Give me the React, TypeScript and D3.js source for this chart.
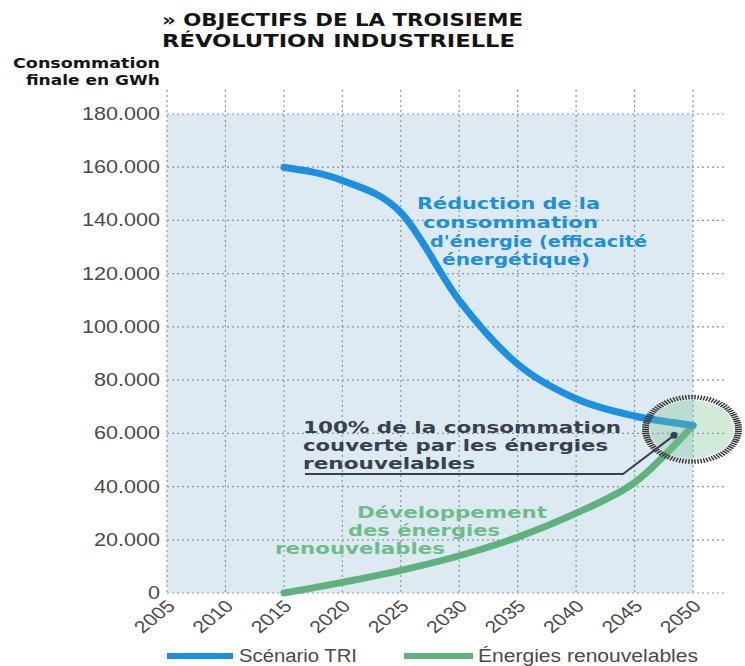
import React, { useEffect, useRef } from "react";
import * as d3 from "d3";

// Data
const years = [2015, 2020, 2025, 2030, 2035, 2040, 2045, 2050];
const scenarioTRI = [160000, 155000, 143000, 110000, 86000, 73000, 66500, 63000];
const renewables = [0, 4000, 8500, 14000, 21000, 30000, 41500, 63000];
const xTicks = [2005, 2010, 2015, 2020, 2025, 2030, 2035, 2040, 2045, 2050];
const yTicks = [0, 20000, 40000, 60000, 80000, 100000, 120000, 140000, 160000, 180000];

const BLUE = "#1b8fe0";
const GREEN = "#5fb27d";
const GREEN_TEXT = "#6cbd8b";
const DARK = "#37424d";
const TICK_TEXT = "#4a4a4a";

const fmt = (v: number) => (v === 0 ? "0" : d3.format(",")(v).replace(/,/g, "."));

const App: React.FC = () => {
  const svgRef = useRef<SVGSVGElement>(null);

  useEffect(() => {
    if (!svgRef.current) return;
    const svg = d3.select(svgRef.current);
    svg.selectAll("*").remove();

    const x = d3.scaleLinear().domain([2005, 2050]).range([167, 693]);
    const y = d3.scaleLinear().domain([0, 180000]).range([593, 114]);

    // plot background
    svg.append("rect")
      .attr("x", x(2005))
      .attr("y", y(180000))
      .attr("width", x(2050) - x(2005))
      .attr("height", y(0) - y(180000))
      .attr("fill", "#deeaf1");

    // grid
    const grid = svg.append("g")
      .attr("stroke", "#8b949b")
      .attr("stroke-width", 1.2)
      .attr("stroke-dasharray", "2,3");
    xTicks.forEach((t) => {
      grid.append("line")
        .attr("x1", x(t)).attr("x2", x(t))
        .attr("y1", 90).attr("y2", y(0));
    });
    yTicks.forEach((t) => {
      grid.append("line")
        .attr("x1", x(2005)).attr("x2", 725)
        .attr("y1", y(t)).attr("y2", y(t));
    });

    // y tick labels (stretched, like the print source)
    yTicks.forEach((t) => {
      svg.append("text")
        .attr("transform", `translate(160,${y(t) + 6}) scale(1.2,1)`)
        .attr("text-anchor", "end")
        .attr("font-family", "Liberation Sans, Arial, sans-serif")
        .attr("font-size", 18)
        .attr("fill", TICK_TEXT)
        .text(fmt(t));
    });

    // x tick labels, rotated
    xTicks.forEach((t) => {
      svg.append("text")
        .attr("transform", `translate(${x(t) + 4},${y(0) + 10}) scale(1.25,1) rotate(-45)`)
        .attr("text-anchor", "end")
        .attr("dy", "0.35em")
        .attr("font-family", "Liberation Sans, Arial, sans-serif")
        .attr("font-size", 17)
        .attr("fill", TICK_TEXT)
        .text(t);
    });

    // series
    const blueLine = d3.line<number>()
      .x((_, i) => x(years[i]))
      .y((d) => y(d))
      .curve(d3.curveMonotoneX);
    const greenLine = d3.line<number>()
      .x((_, i) => x(years[i]))
      .y((d) => y(d))
      .curve(d3.curveCatmullRom.alpha(0.5));

    svg.append("path")
      .attr("d", greenLine(renewables) || "")
      .attr("fill", "none")
      .attr("stroke", GREEN)
      .attr("stroke-width", 7)
      .attr("stroke-linecap", "round");

    svg.append("path")
      .attr("d", blueLine(scenarioTRI) || "")
      .attr("fill", "none")
      .attr("stroke", BLUE)
      .attr("stroke-width", 7)
      .attr("stroke-linecap", "round");

    // 2050 target burst
    const cx = x(2050) - 1;
    const cy = y(61500);
    const rx = 42;
    const ry = 29;
    svg.append("ellipse")
      .attr("cx", cx).attr("cy", cy)
      .attr("rx", rx).attr("ry", ry)
      .attr("fill", "#7cc494")
      .attr("fill-opacity", 0.35);
    const burst = svg.append("g").attr("stroke", "#3a3a3a").attr("stroke-width", 1.5);
    d3.range(96).forEach((i) => {
      const a = (i / 96) * Math.PI * 2;
      const c = Math.cos(a);
      const s = Math.sin(a);
      burst.append("line")
        .attr("x1", cx + (rx + 1) * c).attr("y1", cy + (ry + 1) * s)
        .attr("x2", cx + (rx + 8) * c).attr("y2", cy + (ry + 5.5) * s);
    });

    // annotation pointer
    svg.append("polyline")
      .attr("points", `305,474 623,474 ${cx - 18},${cy + 6}`)
      .attr("fill", "none")
      .attr("stroke", DARK)
      .attr("stroke-width", 2);
    svg.append("circle")
      .attr("cx", cx - 18).attr("cy", cy + 6).attr("r", 3.5)
      .attr("fill", DARK);

    const label = (
      txt: string, lx: number, ly: number, len: number,
      size: number, fill: string, anchor = "start", family = "DejaVu Sans, sans-serif"
    ) => {
      svg.append("text")
        .attr("x", lx).attr("y", ly)
        .attr("text-anchor", anchor)
        .attr("font-family", family)
        .attr("font-weight", "bold")
        .attr("font-size", size)
        .attr("fill", fill)
        .attr("textLength", len)
        .attr("lengthAdjust", "spacingAndGlyphs")
        .text(txt);
    };

    // title
    label("» OBJECTIFS DE LA TROISIEME", 162, 26, 361, 17, "#141414");
    label("RÉVOLUTION INDUSTRIELLE", 162, 47, 353, 17, "#141414");

    // y-axis title
    label("Consommation", 160, 68, 147, 14, "#141414", "end");
    label("finale en GWh", 160, 85, 134, 14, "#141414", "end");

    // blue annotation
    label("Réduction de la", 417, 209, 183, 16, BLUE);
    label("consommation", 423, 228, 175, 16, BLUE);
    label("d'énergie (efficacité", 430, 247, 217, 16, BLUE);
    label("énergétique)", 442, 265, 148, 16, BLUE);

    // dark annotation
    label("100% de la consommation", 303, 433, 318, 16, DARK);
    label("couverte par les énergies", 303, 451, 305, 16, DARK);
    label("renouvelables", 303, 469, 172, 16, DARK);

    // green annotation
    label("Développement", 357, 518, 190, 16, GREEN_TEXT);
    label("des énergies", 348, 536, 152, 16, GREEN_TEXT);
    label("renouvelables", 275, 554, 170, 16, GREEN_TEXT);

    // legend
    const legend = [
      { name: "Scénario TRI", color: BLUE, x0: 167, x1: 233, tx: 239, len: 118 },
      { name: "Énergies renouvelables", color: GREEN, x0: 404, x1: 473, tx: 478, len: 220 },
    ];
    legend.forEach((l) => {
      svg.append("line")
        .attr("x1", l.x0).attr("x2", l.x1)
        .attr("y1", 656).attr("y2", 656)
        .attr("stroke", l.color)
        .attr("stroke-width", 6);
      svg.append("text")
        .attr("x", l.tx).attr("y", 662)
        .attr("font-family", "Liberation Sans, Arial, sans-serif")
        .attr("font-size", 18)
        .attr("fill", TICK_TEXT)
        .attr("textLength", l.len)
        .attr("lengthAdjust", "spacingAndGlyphs")
        .text(l.name);
    });
  }, []);

  return (
    <div style={{ position: "absolute", left: 0, top: 0, background: "#fff" }}>
      <svg ref={svgRef} width={745} height={666} />
    </div>
  );
};

export default App;
